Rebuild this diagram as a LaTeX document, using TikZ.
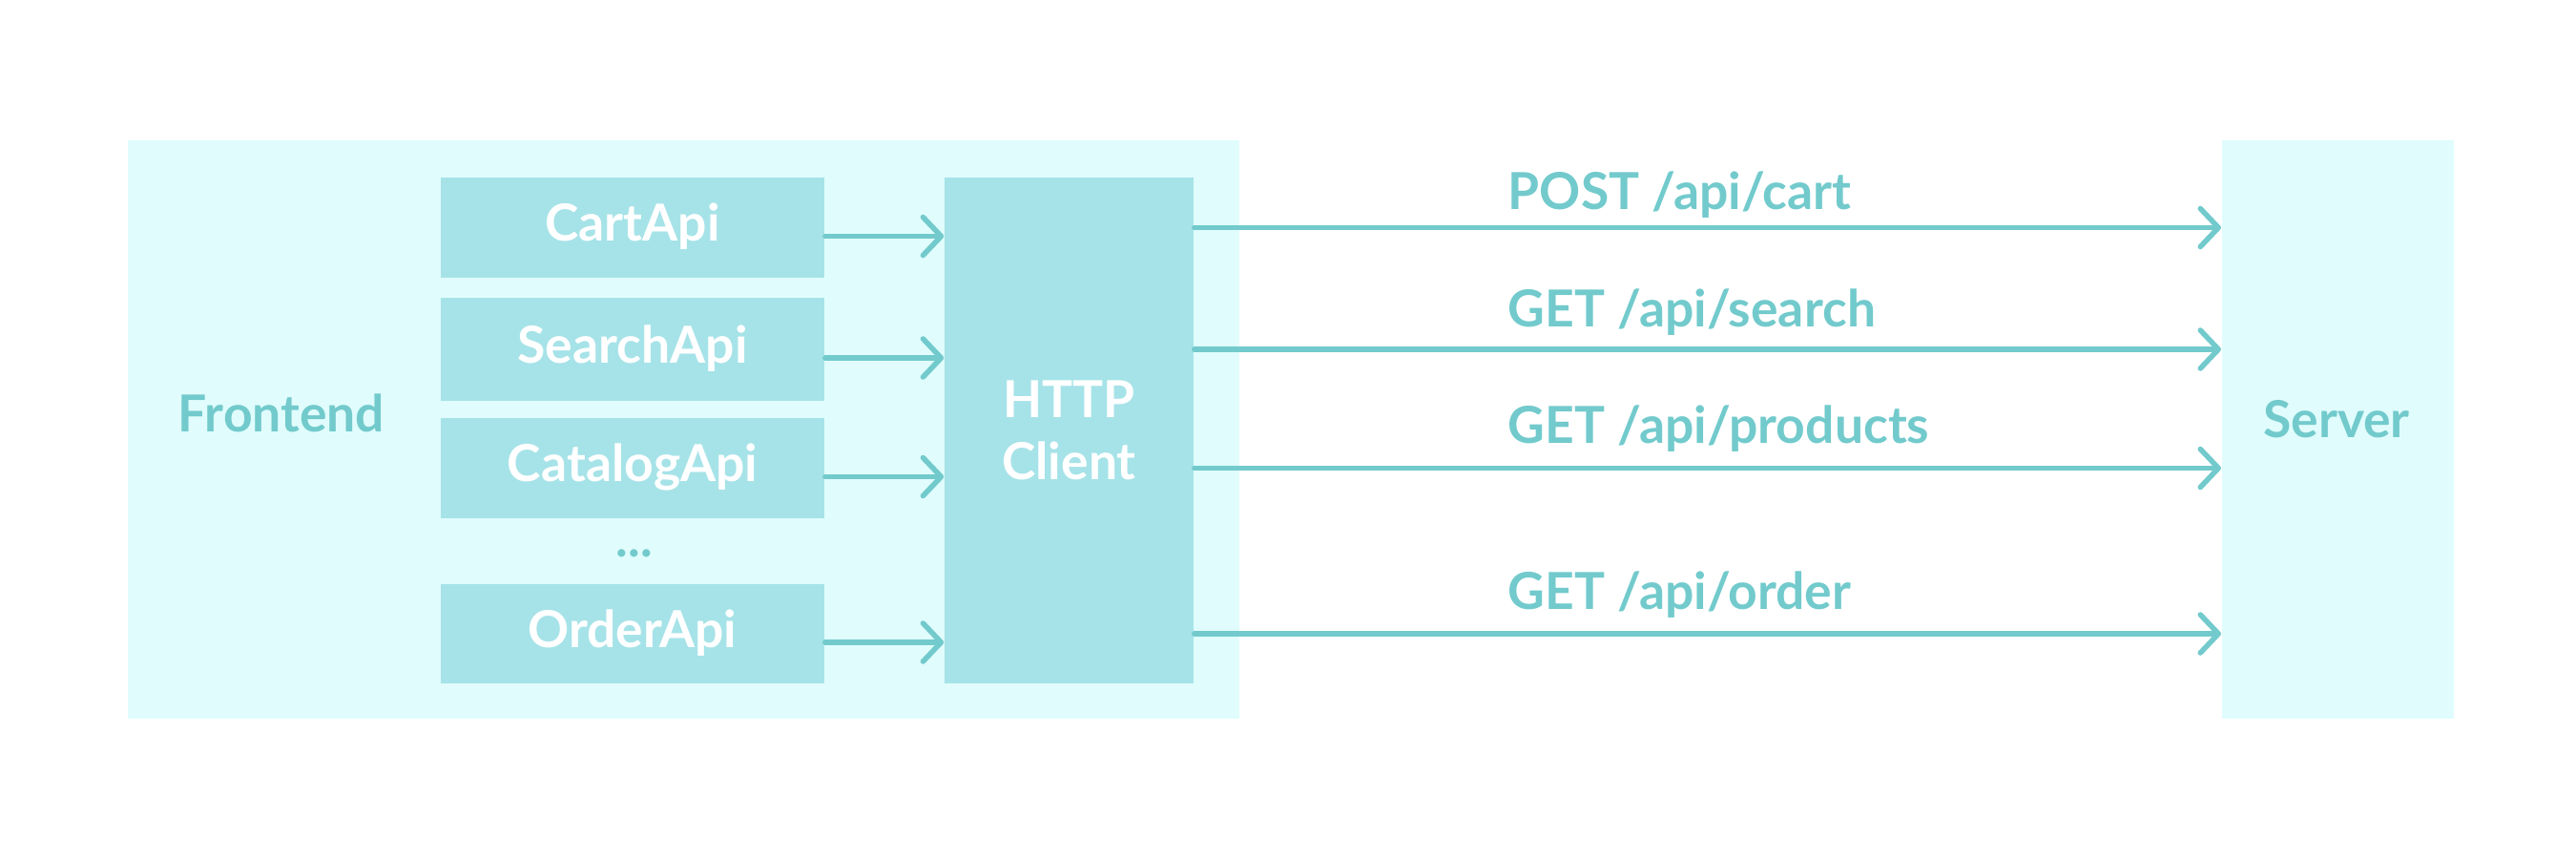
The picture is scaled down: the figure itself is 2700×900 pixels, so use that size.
\documentclass[tikz,border=0pt]{standalone}
\usepackage{fontspec}
\setmainfont{Lato}
\usetikzlibrary{arrows.meta}
\definecolor{bgcol}{HTML}{E0FCFC}
\definecolor{boxcol}{HTML}{A6E3E8}
\definecolor{teal}{HTML}{72CACC}
\tikzset{
  px/.style={x=0.01cm,y=-0.01cm},
  lbl/.style={font=\fontsize{15.2}{18.5}\selectfont\bfseries, inner sep=0pt},
  region/.style={fill=bgcol, draw=none, inner sep=0pt, anchor=north west},
  apibox/.style={fill=boxcol, draw=none, inner sep=0pt, minimum width=4.02cm, minimum height=1.05cm,
     text=white, lbl, text height=0.38cm, text depth=0.1cm},
  arr/.style={draw=teal, line width=0.055cm, line cap=round,
     -{Straight Barb[length=0.19cm, width=0.40cm, round]}},
}
\begin{document}
\begin{tikzpicture}[px]
\useasboundingbox (0,0) rectangle (2700,900);
% regions
\node[region, minimum width=11.65cm, minimum height=6.06cm] (front) at (133,146) {};
\node[region, minimum width=2.43cm, minimum height=6.06cm] (server) at (2328,146) {};
% api boxes
\node[apibox] (cart) at (663,238.5) {CartApi};
\node[apibox, minimum height=1.08cm] (search) at (663,366) {SearchApi};
\node[apibox] (catalog) at (663,490.5) {CatalogApi};
\node[apibox, minimum height=1.04cm] (order) at (663,664) {OrderApi};
\node[lbl, text=teal, anchor=base] (dots) at (665,583) {...};
% http client
\node[fill=boxcol, draw=none, inner sep=0pt, minimum width=2.61cm, minimum height=5.30cm,
      text=white, lbl, align=center] (http) at (1120.5,451) {HTTP\\Client};
% labels
\node[lbl, text=teal, anchor=base] (frontlbl) at (295,452.5) {Frontend};
\node[lbl, text=teal, anchor=base] (serverlbl) at (2449,458) {Server};
% left arrows
\foreach \b in {cart,search,catalog,order}{
  \draw[arr] ([yshift=-0.09cm]\b.east) -- ([yshift=-0.09cm]\b.east -| http.west);
}
% right arrows
\foreach \b in {cart,search,catalog,order}{
  \draw[arr] (\b.center -| http.east) -- (\b.center -| server.west);
}
\node[lbl, text=teal, anchor=base west] (l1) at (1580,219) {POST /api/cart};
\node[lbl, text=teal, anchor=base west] (l2) at (1580,342) {GET /api/search};
\node[lbl, text=teal, anchor=base west] (l3) at (1580,464) {GET /api/products};
\node[lbl, text=teal, anchor=base west] (l4) at (1580,638) {GET /api/order};
\end{tikzpicture}
\end{document}
